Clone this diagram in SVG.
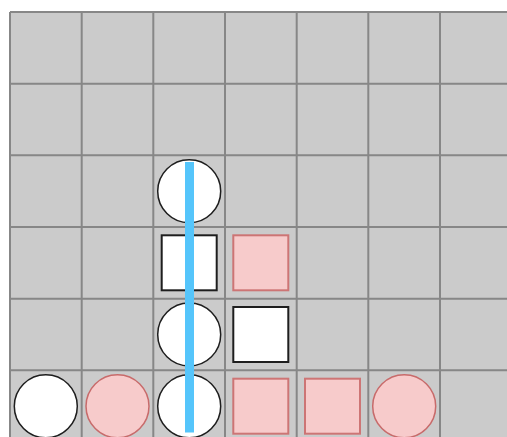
<svg xmlns="http://www.w3.org/2000/svg" width="507" height="437" viewBox="0 0 507 437">
<style>
.grid{stroke:#878787;stroke-width:2;fill:none}
.wc{fill:#ffffff;stroke:#1e1e1e;stroke-width:1.5}
.ws{fill:#ffffff;stroke:#1e1e1e;stroke-width:2}
.pc{fill:#f7cbcb;stroke:#c86b6b;stroke-width:1.5}
.ps{fill:#f7cbcb;stroke:#cd7575;stroke-width:2}
</style>
<rect x="0" y="0" width="507" height="437" fill="#ffffff"/>
<g id="board">
<rect x="10" y="12" width="501.7" height="430" fill="#cbcbcb"/>
<path class="grid" d="M10 12V442M81.7 12V442M153.3 12V442M225 12V442M296.7 12V442M368.3 12V442M440 12V442M10 12H511.7M10 83.7H511.7M10 155.3H511.7M10 227H511.7M10 298.7H511.7M10 370.3H511.7"/>
</g>
<g id="n-c2r2"><circle class="wc" cx="189.2" cy="191.2" r="31.5"/></g>
<g id="n-c2r3"><rect class="ws" x="161.7" y="235.3" width="55" height="55"/></g>
<g id="n-c3r3"><rect class="ps" x="233.3" y="235.3" width="55" height="55"/></g>
<g id="n-c2r4"><circle class="wc" cx="189.2" cy="334.5" r="31.5"/></g>
<g id="n-c3r4"><rect class="ws" x="233.3" y="307" width="55" height="55"/></g>
<g id="n-c0r5"><circle class="wc" cx="45.8" cy="406.2" r="31.5"/></g>
<g id="n-c1r5"><circle class="pc" cx="117.5" cy="406.2" r="31.5"/></g>
<g id="n-c2r5"><circle class="wc" cx="189.2" cy="406.2" r="31.5"/></g>
<g id="n-c3r5"><rect class="ps" x="233.3" y="378.7" width="55" height="55"/></g>
<g id="n-c4r5"><rect class="ps" x="305" y="378.7" width="55" height="55"/></g>
<g id="n-c5r5"><circle class="pc" cx="404.2" cy="406.2" r="31.5"/></g>
<g id="connectors">
<line x1="189.5" y1="162" x2="189.5" y2="432.5" stroke="#55c5fb" stroke-width="9"/>
</g>
</svg>
